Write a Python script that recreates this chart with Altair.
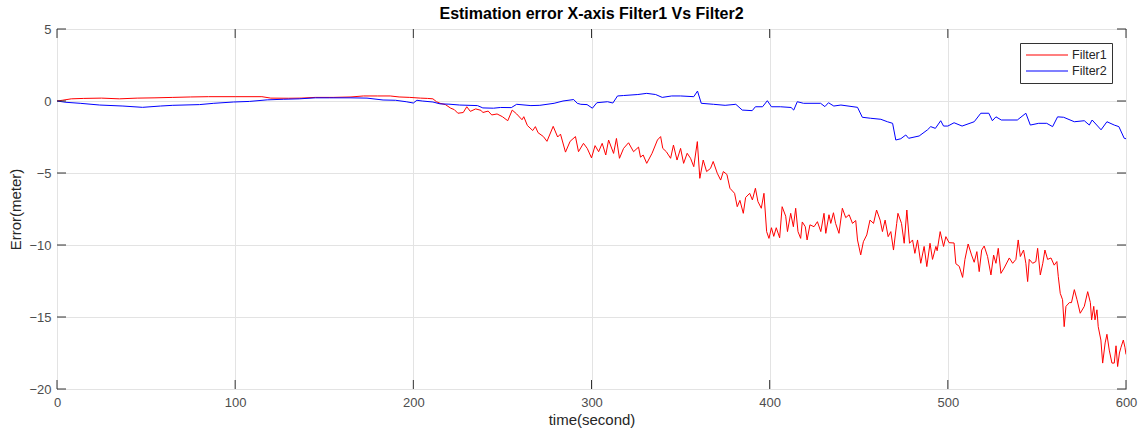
import altair as alt
import pandas as pd

# ---- data ----
red_t = [0, 3, 8, 15, 25, 35, 45, 55, 65, 75, 85, 100, 115, 120, 130, 137, 145, 155, 165, 172, 180, 187, 192, 198,
         204, 208, 211, 213, 215, 218, 221, 223, 225, 228, 230, 232, 235, 238, 239, 242, 244, 247, 250, 253, 255.5,
         258, 261, 262, 264, 267, 268.5, 270, 273, 275, 278.5, 281, 282.6, 285.4, 288, 291, 292.7, 295.5, 297.6, 300,
         302, 304, 306, 308, 309.6, 312.4, 314, 315.7, 318, 320.8, 323.6, 326.4, 327.5, 329, 331, 334, 337, 338.8, 340,
         342, 344.4, 346, 348, 350, 351.7, 353.7, 355.6, 357.4, 359.4, 360.8, 362.7, 364.6, 366.8, 368.3, 370.6, 372.5,
         374, 376, 377.7, 380.3, 381.8, 383.3, 385.2, 386.5, 388.8, 390.3, 392, 393.4, 395.3, 396.8, 398.3, 399.6, 401,
         402.3, 403.7, 405.6, 407, 409, 410, 411.8, 413.3, 414.6, 415.9, 417.4, 418.3, 420, 421, 422.6, 424.9, 426.8,
         428.7, 430.5, 431.5, 433.3, 434.3, 435.8, 437, 438.9, 440.8, 442.7, 444.6, 446.5, 448.3, 449.3, 451.1, 452.6,
         454.5, 456.3, 458.3, 460, 462, 463.3, 464.8, 466.5, 468, 469.5, 471.3, 472, 474, 475.5, 477, 478.5, 480.2,
         481.5, 483, 484.8, 486.7, 488.2, 490, 491.4, 493.3, 494, 495.7, 497.6, 498.9, 500.7, 503.5, 504.5, 506.4,
         508.3, 509.6, 511.4, 513.3, 514.8, 516.3, 517.6, 519, 520.4, 522.3, 524.2, 525.7, 527, 528.3, 529.8, 531.6,
         534.5, 536.4, 538.2, 539.5, 540.7, 542.5, 543.8, 544.8, 545.7, 547.6, 549.4, 550.4, 551.9, 553.3, 554.5, 556,
         557.9, 559.7, 561.2, 562, 563.1, 564.4, 565.3, 566.3, 568.2, 569.4, 571, 572.5, 574.3, 576.6, 578.5, 580,
         580.7, 581.9, 582.6, 583.7, 584.4, 585.9, 586.9, 588.3, 589.3, 590.6, 592.1, 593.4, 594.4, 595.3, 596.3,
         597.2, 598.5, 599.4, 600]
red_v = [0.0, 0.05, 0.15, 0.18, 0.2, 0.15, 0.2, 0.22, 0.25, 0.28, 0.3, 0.3, 0.3, 0.2, 0.19, 0.2, 0.25, 0.25, 0.28,
         0.35, 0.35, 0.35, 0.28, 0.25, 0.2, 0.18, 0.15, -0.05, -0.16, -0.25, -0.5, -0.6, -0.85, -0.8, -0.4, -0.72,
         -0.55, -0.65, -0.8, -0.7, -0.97, -0.9, -1.09, -1.37, -0.63, -0.9, -1.3, -1.09, -1.7, -2.05, -1.78, -2.2,
         -2.47, -2.8, -1.76, -2.5, -2.3, -3.55, -2.8, -2.47, -3.52, -2.94, -3.29, -3.95, -3.1, -3.52, -2.94, -3.75,
         -2.71, -3.64, -2.6, -3.98, -3.29, -2.9, -3.52, -3.2, -3.9, -3.75, -4.33, -3.63, -2.71, -2.47, -3.29, -3.52,
         -3.98, -3.06, -4.1, -3.29, -4.33, -3.63, -3.98, -4.56, -2.82, -5.37, -4.1, -4.9, -4.68, -4.2, -5.02, -5.49,
         -4.9, -5.1, -6.06, -6.41, -7.34, -6.9, -7.8, -6.7, -6.41, -6.87, -6.06, -6.98, -7.45, -6.41, -9.07, -9.54,
         -8.8, -9.4, -8.8, -9.5, -7.34, -8.0, -9.07, -7.8, -8.73, -7.45, -9.07, -9.54, -8.4, -8.73, -9.65, -8.6,
         -8.73, -8.38, -9.07, -7.8, -9.19, -7.9, -8.5, -7.76, -8.5, -9.19, -7.45, -8.1, -7.9, -8.5, -8.3, -9.65,
         -10.69, -9.77, -9.3, -8.27, -8.5, -7.57, -8.27, -9.07, -8.27, -9.42, -9.07, -10.35, -8.5, -7.8, -8.5, -9.88,
         -7.57, -9.88, -9.65, -10.58, -9.65, -11.27, -10.1, -11.5, -9.88, -11.0, -10.1, -10.4, -9.07, -10.1, -9.42,
         -9.84, -9.86, -11.3, -11.48, -12.25, -11.0, -9.93, -10.69, -11.2, -10.46, -11.85, -10.35, -10.07, -10.8,
         -12.08, -10.7, -11.27, -10.23, -11.97, -11.6, -10.9, -11.27, -11.0, -9.65, -10.8, -10.35, -11.27, -12.54,
         -11.0, -11.27, -11.15, -10.23, -12.08, -11.27, -10.35, -11.0, -10.9, -11.4, -11.15, -12.2, -13.36, -13.8,
         -15.67, -14.26, -14.0, -14.0, -13.1, -13.8, -14.74, -14.26, -13.24, -14.0, -15.2, -14.26, -15.2, -14.5,
         -15.67, -16.6, -18.2, -16.8, -16.2, -17.3, -18.2, -18.2, -17.0, -18.44, -17.5, -17.1, -16.6, -17.1, -17.6]

blue_t = [0, 5, 13, 24, 37, 48, 58, 65, 80, 88, 99, 108, 118, 127, 136, 145, 153, 165, 174, 183, 190, 196, 200,
          202, 205, 211, 215, 220, 226, 236, 239, 245, 249, 255, 258, 266, 271, 279, 284, 290, 292, 294, 297.5,
          300.5, 303, 309, 312, 314.6, 318, 326, 331, 336, 339.7, 345, 350, 357.4, 359.5, 361.6, 368.5, 375, 381,
          384.6, 390.2, 392, 396, 398.7, 401, 406, 412, 413.5, 415.5, 419, 428.6, 431, 433, 436, 440, 449.3, 452,
          456.7, 462.4, 466.1, 469, 470.8, 473.6, 476.4, 478, 483.9, 488.6, 490.4, 493, 496, 497.6, 500, 503.5, 508,
          514.8, 518.5, 523, 525, 527, 530, 539, 543.8, 546.3, 551, 555.5, 558.8, 561.6, 565, 571, 576.6, 579.4, 581,
          586, 589.3, 593.4, 596, 599, 600]
blue_v = [0.0, -0.09, -0.16, -0.28, -0.35, -0.44, -0.35, -0.3, -0.25, -0.16, -0.07, -0.03, 0.08, 0.12, 0.15, 0.22,
          0.22, 0.22, 0.2, 0.07, 0.05, -0.05, -0.14, 0.05, 0.0, -0.07, -0.2, -0.22, -0.28, -0.32, -0.48, -0.5, -0.45,
          -0.46, -0.23, -0.32, -0.3, -0.16, 0.0, 0.1, -0.16, -0.23, -0.25, -0.5, -0.12, -0.05, -0.14, 0.35, 0.38,
          0.45, 0.53, 0.45, 0.25, 0.35, 0.35, 0.3, 0.69, -0.16, -0.23, -0.3, -0.23, -0.63, -0.67, -0.4, -0.4, 0.02,
          -0.4, -0.4, -0.45, -0.63, -0.05, -0.16, -0.16, -0.39, -0.12, -0.35, -0.28, -0.44, -1.13, -1.2, -1.27,
          -1.44, -1.55, -2.71, -2.62, -2.36, -2.59, -2.43, -2.0, -1.78, -1.9, -1.37, -1.74, -1.74, -1.51, -1.74,
          -1.44, -0.85, -0.85, -1.37, -1.1, -1.32, -1.32, -0.85, -1.67, -1.55, -1.55, -1.78, -1.1, -1.13, -1.44,
          -1.37, -1.67, -1.32, -2.0, -1.44, -1.67, -1.78, -2.59, -2.62]

series_names = ["Filter1", "Filter2"]
series_colors = ["#ff0000", "#0000ff"]
x_ticks = [0, 100, 200, 300, 400, 500, 600]
y_ticks = [-20, -15, -10, -5, 0, 5]

W, H = 1069, 360

df = pd.concat([
    pd.DataFrame({"t": red_t, "v": red_v, "series": series_names[0]}),
    pd.DataFrame({"t": blue_t, "v": blue_v, "series": series_names[1]}),
])
xt = pd.DataFrame({"t": x_ticks})
yt = pd.DataFrame({"v": y_ticks})

xscale = alt.Scale(domain=[0, 600], nice=False, zero=False)
yscale = alt.Scale(domain=[-20, 5], nice=False, zero=False)
xaxis = alt.Axis(values=x_ticks, title="time(second)", ticks=False, domain=False,
                 labelPadding=7, titlePadding=3, labelFlush=False)
yaxis = alt.Axis(values=y_ticks, title="Error(meter)", ticks=False, domain=False,
                 labelPadding=6, titlePadding=5, labelFlush=False)

lines = alt.Chart(df).mark_line(strokeWidth=1, clip=True).encode(
    x=alt.X("t:Q", scale=xscale, axis=xaxis),
    y=alt.Y("v:Q", scale=yscale, axis=yaxis),
    color=alt.Color("series:N", scale=alt.Scale(domain=series_names, range=series_colors),
                    legend=alt.Legend(orient="none", legendX=963, legendY=14, title=None,
                                      symbolType="stroke", symbolSize=1764, symbolStrokeWidth=1.2,
                                      clipHeight=14,
                                      strokeColor="#333333", fillColor="white", padding=5,
                                      labelFontSize=12.5, labelColor="#262626", labelOffset=3,
                                      rowPadding=2, labelFont="Liberation Sans")),
)

tick_len = 9
tick_color = "#333333"
bottom_ticks = alt.Chart(xt).mark_rule(color=tick_color).encode(
    x=alt.X("t:Q", scale=xscale, axis=xaxis), y=alt.value(H), y2=alt.value(H - tick_len))
top_ticks = alt.Chart(xt).mark_rule(color=tick_color).encode(
    x=alt.X("t:Q", scale=xscale, axis=xaxis), y=alt.value(0), y2=alt.value(tick_len))
left_ticks = alt.Chart(yt).mark_rule(color=tick_color).encode(
    y=alt.Y("v:Q", scale=yscale, axis=yaxis), x=alt.value(0), x2=alt.value(tick_len))
right_ticks = alt.Chart(yt).mark_rule(color=tick_color).encode(
    y=alt.Y("v:Q", scale=yscale, axis=yaxis), x=alt.value(W), x2=alt.value(W - tick_len))

chart = alt.layer(lines, bottom_ticks, top_ticks, left_ticks, right_ticks).properties(
    width=W, height=H,
    title=alt.TitleParams("Estimation error X-axis Filter1 Vs Filter2", fontSize=16, fontWeight="bold",
                          font="Liberation Sans", color="#000000", anchor="middle", offset=1),
    autosize=alt.AutoSizeParams(type="none"),
    padding={"left": 57, "top": 29, "right": 18, "bottom": 45},
).configure_view(
    stroke="#262626", strokeWidth=1
).configure_axis(
    grid=True, gridColor="#e3e3e3", gridWidth=1,
    labelFont="Liberation Sans", labelFontSize=13, labelColor="#4d4d4d",
    titleFont="Liberation Sans", titleFontSize=15, titleFontWeight="normal", titleColor="#262626",
)

chart.save("out.html", embed_options={"renderer": "svg", "actions": False})
